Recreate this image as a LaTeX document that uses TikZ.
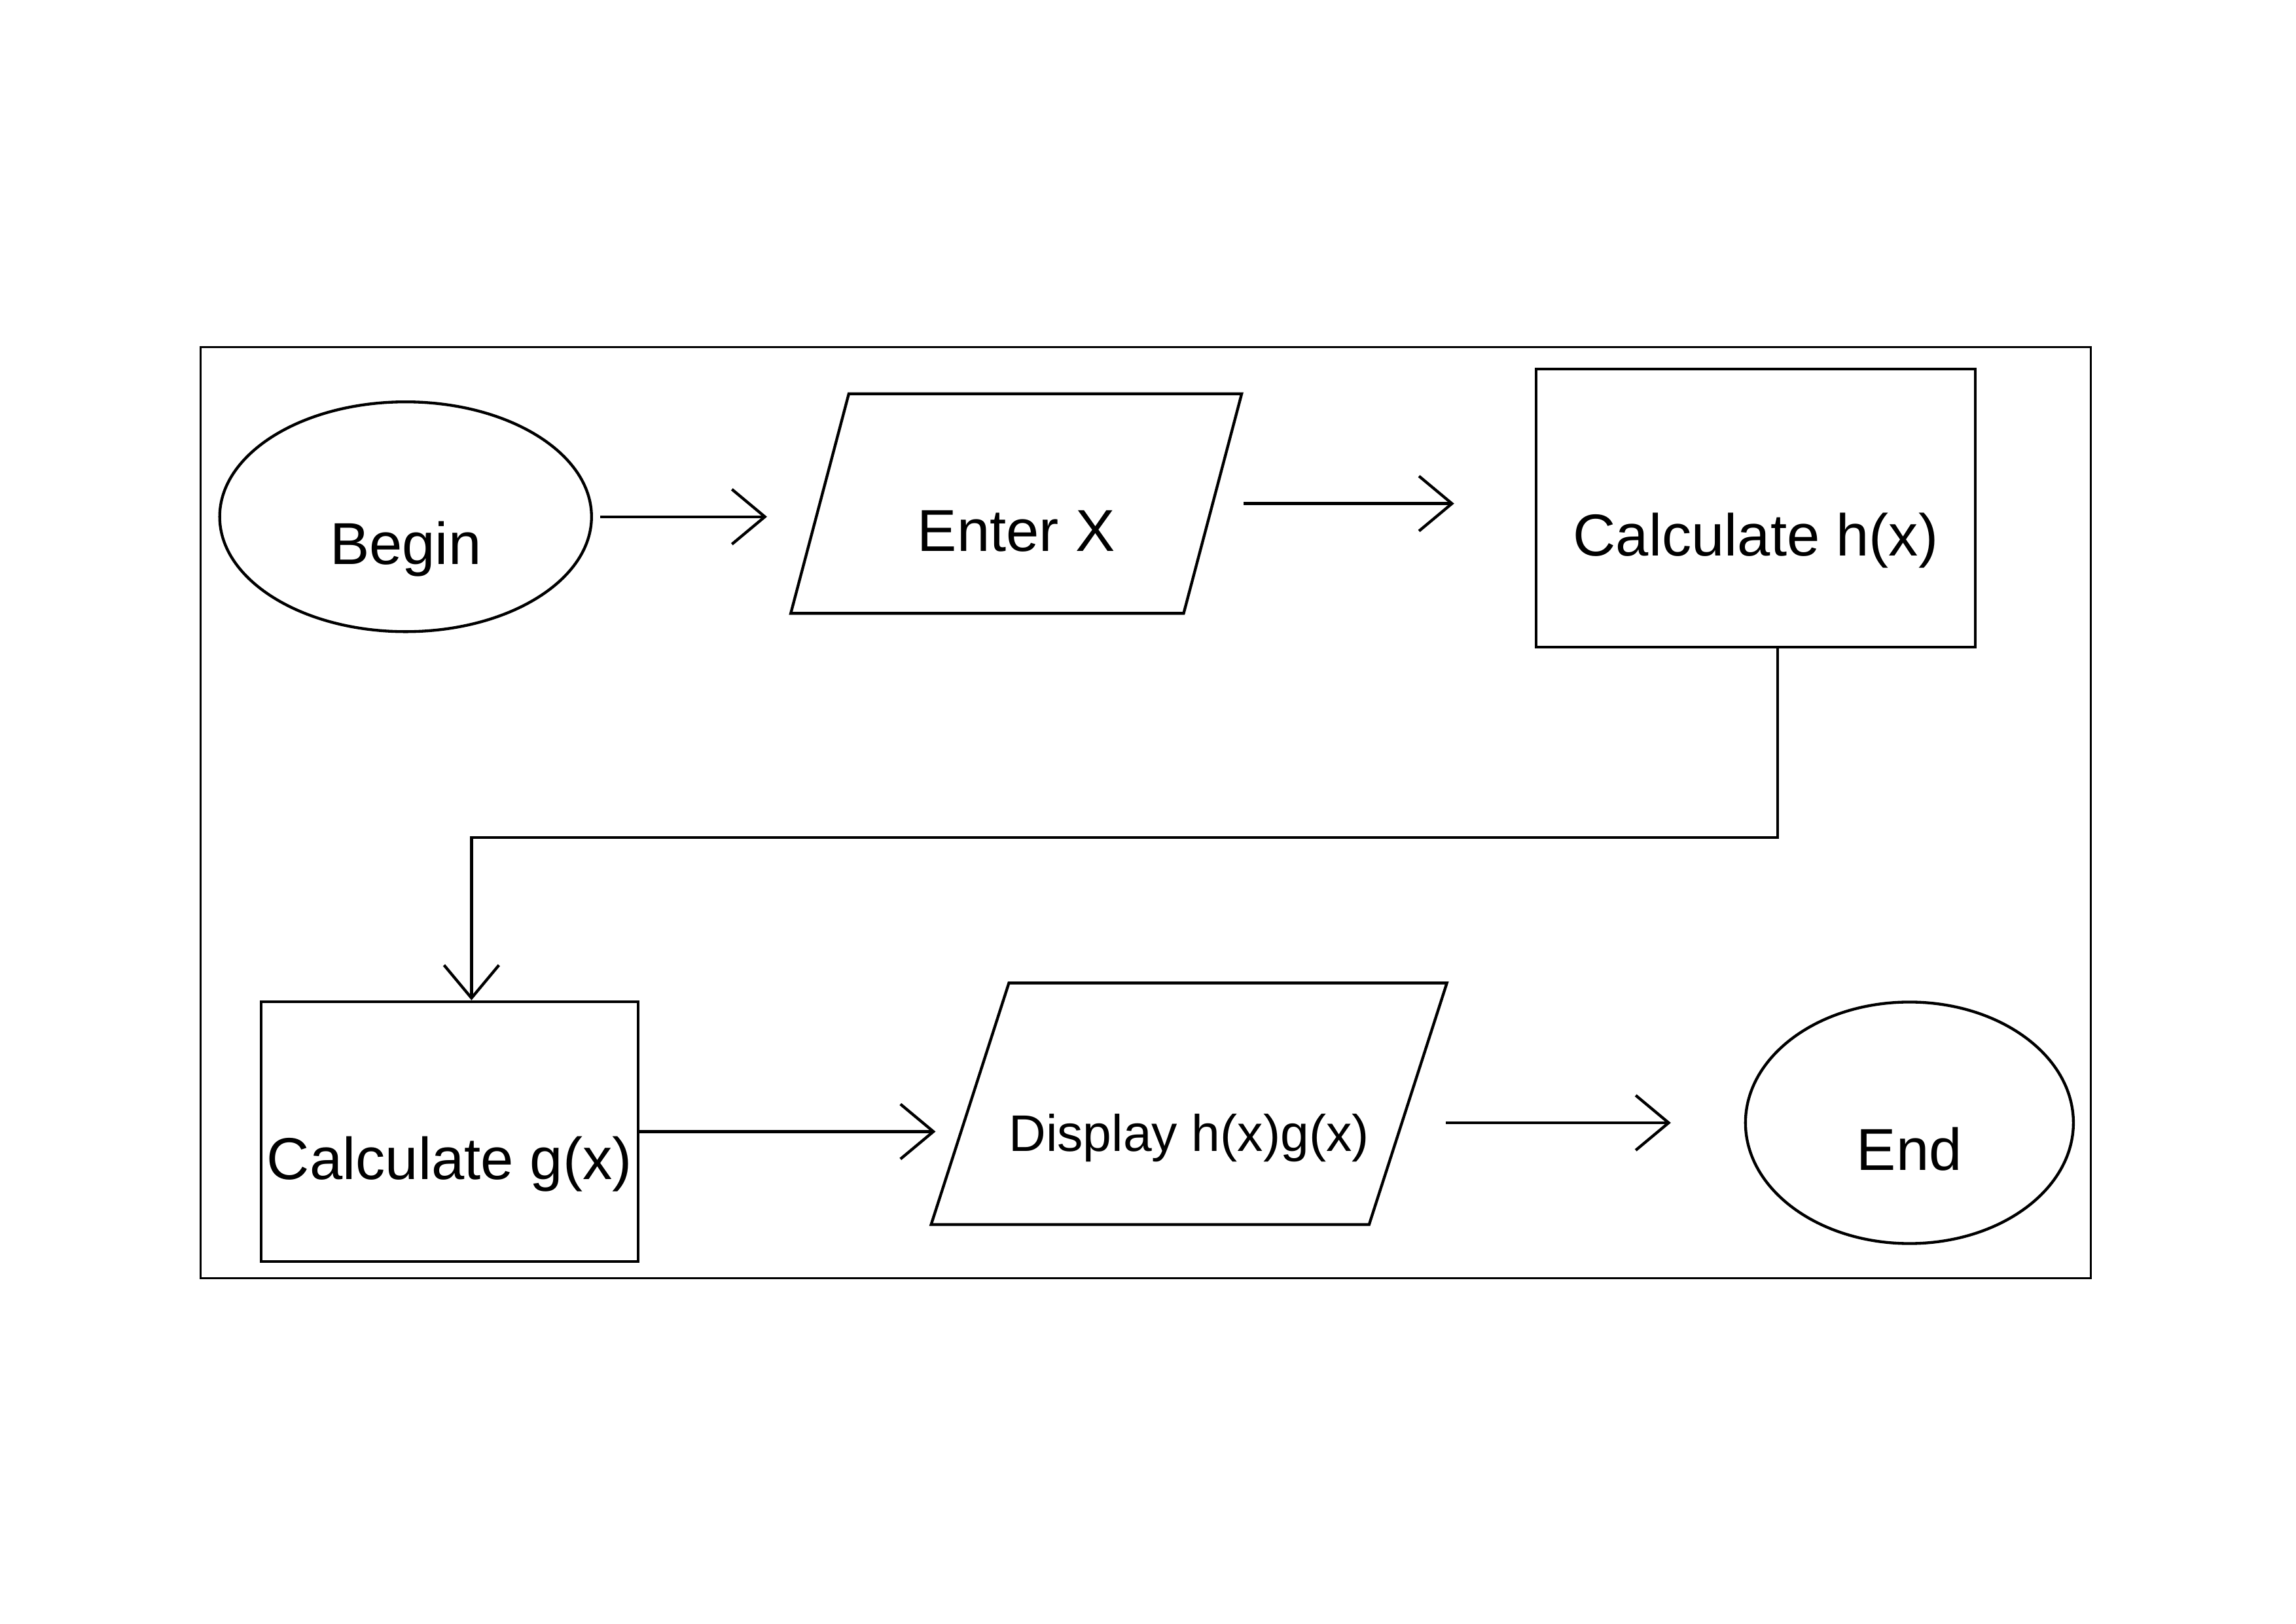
\documentclass[tikz,border=0pt]{standalone}
\usepackage{fontspec}
\setmainfont{Liberation Sans}
\usetikzlibrary{shapes.geometric,arrows.meta}
\tikzset{
  stroke/.style={draw=black, line width=1.1pt},
  lbl/.style={font=\fontsize{23}{27}\selectfont, text height=1.5cm, text depth=0.2cm},
  terminal/.style={stroke, ellipse, inner sep=0pt, lbl},
  process/.style={stroke, rectangle, inner sep=0pt, lbl},
  io/.style={stroke, trapezium, trapezium stretches body=true, inner sep=0pt, lbl},
  flow/.style={stroke, -{Straight Barb[length=0.45cm, width=0.75cm, line width=1.1pt]}},
  frame/.style={draw=black, line width=0.8pt}
}
\begin{document}
\begin{tikzpicture}[x=0.02cm, y=-0.02cm]
\useasboundingbox (0,0) rectangle (1568,1109);
\fill[white] (0,0) rectangle (1568,1109);
\draw[frame] (137,237) rectangle (1428,873);

\node[terminal, minimum width=5.08cm, minimum height=3.14cm] (begin) at (277,353) {Begin};
\node[io, trapezium left angle=65, trapezium right angle=115,
      minimum width=6.16cm, minimum height=3.0cm] (enter) at (694,344) {Enter X};
\node[process, minimum width=6.0cm, minimum height=3.8cm] (calch) at (1199,347) {Calculate h(x)};

\node[process, minimum width=5.15cm, minimum height=3.55cm] (calcg) at (307,773) {Calculate g(x)};
\node[io, font=\fontsize{20}{24}\selectfont, trapezium left angle=58, trapezium right angle=122,
      minimum width=6.58cm, minimum height=3.3cm] (display) at (812,754) {Display h(x)g(x)};
\node[terminal, minimum width=4.48cm, minimum height=3.3cm] (end) at (1304,767) {End};

\coordinate (bend) at (760,572);

\draw[flow, shorten <=0.1cm, shorten >=0.7cm] (begin.east) -- (begin.east -| enter.west);
\draw[flow, shorten <=0.4cm, shorten >=1.1cm] (enter.east) -- (enter.east -| calch.west);
\draw[flow] ([xshift=0.3cm]calch.south) |- (bend) -| ([xshift=0.3cm]calcg.north);
\draw[flow, shorten >=0.45cm] (calcg.east) -- (calcg.east -| display.west);
\draw[flow, shorten <=0.5cm, shorten >=1.0cm] (display.east |- end.west) -- (end.west);
\end{tikzpicture}
\end{document}
